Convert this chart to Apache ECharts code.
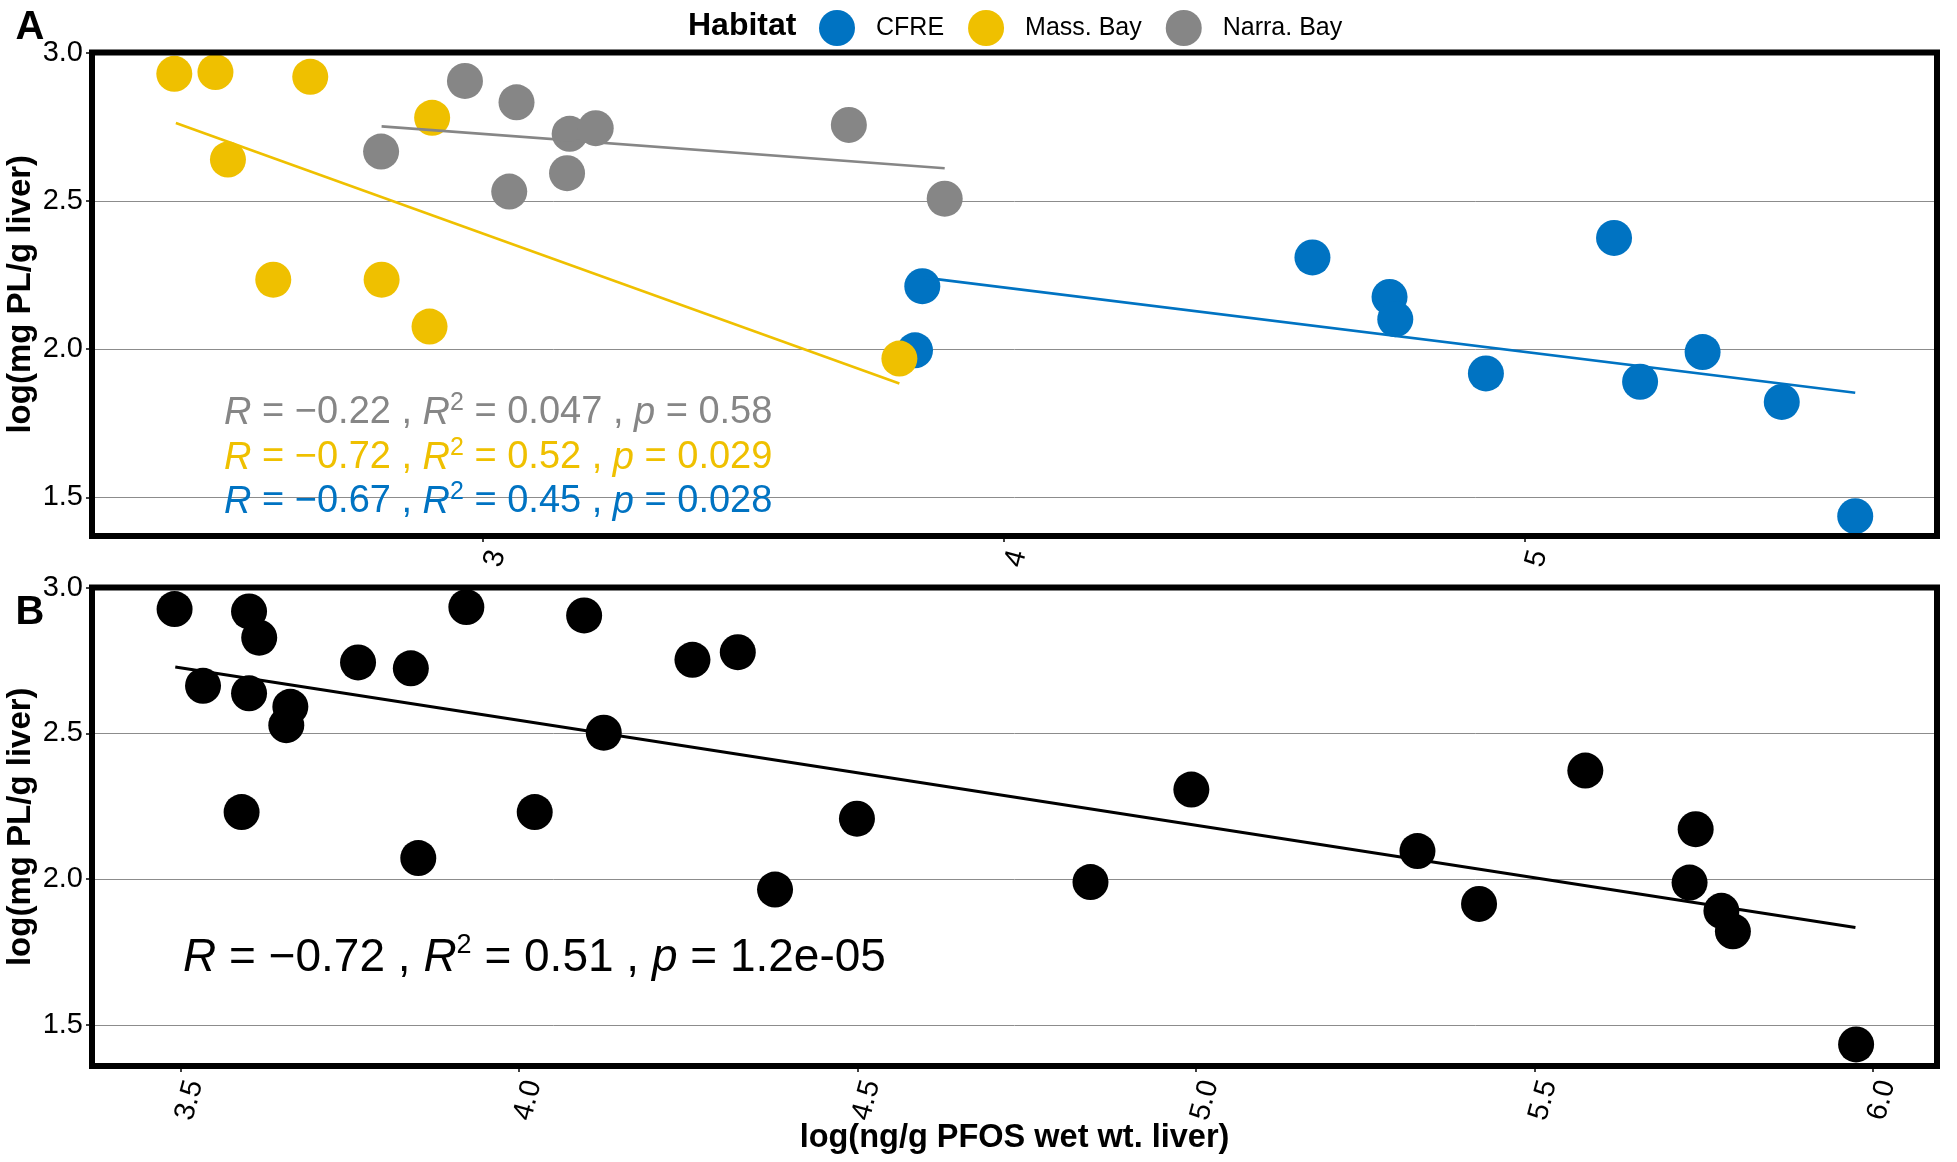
<!DOCTYPE html>
<html><head><meta charset="utf-8">
<script src="https://cdn.jsdelivr.net/npm/echarts@6/dist/echarts.min.js"></script>
<style>html,body{margin:0;padding:0;background:#fff}#c{width:1957px;height:1162px}</style>
</head><body><div id="c"></div>
<script>
// ---------- data ----------
const habitats = ['CFRE', 'Mass. Bay', 'Narra. Bay'];
const habitatColors = ['#0073C2', '#EFC000', '#868686'];

// tick values
const ticksAX = [3, 4, 5];
const ticksBX = [3.5, 4.0, 4.5, 5.0, 5.5, 6.0];
const ticksY  = [1.5, 2.0, 2.5, 3.0];

// Panel A
const cfreX  = [3.843, 3.829, 4.592, 4.740, 4.751, 5.171, 4.925, 5.221, 5.341, 5.493, 5.634];
const cfreY  = [2.212, 1.996, 2.309, 2.176, 2.101, 2.375, 1.918, 1.890, 1.990, 1.822, 1.437];
const massX  = [2.407, 2.486, 2.668, 2.902, 2.510, 2.597, 2.805, 2.897, 3.799];
const massY  = [2.928, 2.934, 2.918, 2.780, 2.639, 2.234, 2.234, 2.076, 1.968];
const narraX = [2.965, 3.064, 2.804, 3.166, 3.216, 3.050, 3.161, 3.702, 3.886];
const narraY = [2.904, 2.832, 2.666, 2.726, 2.745, 2.531, 2.593, 2.756, 2.507];

// fitted lines (end points)
const fitCfreX  = [3.843, 5.634];  const fitCfreY  = [2.242, 1.853];
const fitMassX  = [2.410, 3.799];  const fitMassY  = [2.762, 1.884];
const fitNarraX = [2.805, 3.886];  const fitNarraY = [2.751, 2.610];

// Panel B
const allX = [3.491, 3.533, 3.601, 3.616, 3.601, 3.662, 3.656, 3.590, 3.762, 3.840,
              3.922, 3.851, 4.023, 4.096, 4.125, 4.256, 4.323, 4.378, 4.499, 4.844,
              4.993, 5.327, 5.418, 5.575, 5.738, 5.729, 5.776, 5.793, 5.975];
const allY = [2.926, 2.663, 2.918, 2.828, 2.637, 2.591, 2.528, 2.230, 2.743, 2.723,
              2.933, 2.072, 2.230, 2.904, 2.502, 2.752, 2.778, 1.964, 2.207, 1.990,
              2.307, 2.096, 1.915, 2.372, 2.171, 1.988, 1.891, 1.821, 1.433];
const fitAllX = [3.492, 5.974];  const fitAllY = [2.727, 1.834];

// stats labels
const statsA = [
  {r: '−0.22', r2: '0.047', p: '0.58'},   // Narra. Bay
  {r: '−0.72', r2: '0.52',  p: '0.029'},  // Mass. Bay
  {r: '−0.67', r2: '0.45',  p: '0.028'}   // CFRE
];
const statsAColors = ['#868686', '#EFC000', '#0073C2'];
const statsB = {r: '−0.72', r2: '0.51', p: '1.2e-05'};

const yTitle = 'log(mg PL/g liver)';
const xTitle = 'log(ng/g PFOS wet wt. liver)';

// ---------- helpers ----------
const zip = (xs, ys) => xs.map((x, i) => [x, ys[i]]);
const FONT = 'Liberation Sans, Arial, sans-serif';
const halfFmt = v => Math.abs(v * 2 - Math.round(v * 2)) < 1e-6 ? v.toFixed(1) : '';
const intFmt  = v => Math.abs(v - Math.round(v)) < 1e-6 ? String(Math.round(v)) : '';

const GA = {left: 92, right: 20, top: 52.5, height: 483.5, outerBoundsMode: 'none', containLabel: false};
const GB = {left: 92, right: 20, top: 587.5, height: 478.5, outerBoundsMode: 'none', containLabel: false};
const W = 1957;

function statText(s, color, size, supSize, mainLH, supLH) {
  return {
    type: 'text',
    style: {
      text: `{i|R}{n| = ${s.r} , }{i|R}{s|2}{n| = ${s.r2} , }{i|p}{n| = ${s.p}}`,
      verticalAlign: 'middle',
      rich: {
        i: {fontFamily: FONT, fontSize: size, fontStyle: 'italic', fill: color, lineHeight: mainLH},
        n: {fontFamily: FONT, fontSize: size, fill: color, lineHeight: mainLH},
        s: {fontFamily: FONT, fontSize: supSize, fill: color, lineHeight: supLH, verticalAlign: 'top'}
      }
    },
    z: 50
  };
}

function yTitleText(cy) {
  return {type: 'text', x: 21, y: cy, rotation: Math.PI / 2,
    style: {text: yTitle, align: 'center', verticalAlign: 'middle',
      fontFamily: FONT, fontWeight: 'bold', fontSize: 33, fill: '#000'}, z: 100};
}

const tickStyle = {show: true, length: 6, lineStyle: {color: '#000', width: 1.5}};

const yAxisCommon = {
  type: 'value', splitNumber: 3,
  axisLine: {show: false},
  axisTick: Object.assign({customValues: ticksY}, tickStyle),
  axisLabel: {formatter: halfFmt, customValues: ticksY, color: '#000', fontSize: 29, fontFamily: FONT, margin: 9,
              showMinLabel: true, showMaxLabel: true},
  splitLine: {show: true, lineStyle: {color: '#8c8c8c', width: 1}}
};

const xLabel = {rotate: 75, color: '#000', fontSize: 29, fontFamily: FONT, margin: 11,
                verticalAlign: 'top', showMinLabel: true, showMaxLabel: true};

const chart = echarts.init(document.getElementById('c'), null, {renderer: 'canvas'});

const option = {
  backgroundColor: '#fff',
  animation: false,
  grid: [GA, GB],
  legend: {
    data: habitats, left: 814, top: 5, orient: 'horizontal',
    icon: 'circle', itemWidth: 36, itemHeight: 36, itemGap: 24,
    selectedMode: false,
    textStyle: {fontFamily: FONT, fontSize: 25, color: '#000', padding: [0, 0, 0, 16]}
  },
  xAxis: [
    {gridIndex: 0, type: 'value', min: 2.249, max: 5.791, splitNumber: 3,
     axisLine: {show: false}, splitLine: {show: false},
     axisTick: Object.assign({customValues: ticksAX}, tickStyle),
     axisLabel: Object.assign({formatter: intFmt, customValues: ticksAX}, xLabel)},
    {gridIndex: 1, type: 'value', min: 3.369, max: 6.0945, splitNumber: 5,
     axisLine: {show: false}, splitLine: {show: false},
     axisTick: Object.assign({customValues: ticksBX}, tickStyle),
     axisLabel: Object.assign({formatter: halfFmt, customValues: ticksBX}, xLabel),
     name: xTitle, nameLocation: 'middle', nameGap: 56, nameMoveOverlap: false,
     nameTextStyle: {fontFamily: FONT, fontWeight: 'bold', fontSize: 32.5, color: '#000', verticalAlign: 'top'}}
  ],
  yAxis: [
    Object.assign({gridIndex: 0, min: 1.370, max: 3.0}, yAxisCommon),
    Object.assign({gridIndex: 1, min: 1.359, max: 3.0}, yAxisCommon)
  ],
  series: [
    {name: habitats[0], type: 'scatter', xAxisIndex: 0, yAxisIndex: 0, symbolSize: 36,
     itemStyle: {color: habitatColors[0], opacity: 1}, data: zip(cfreX, cfreY), z: 3},
    {name: habitats[1], type: 'scatter', xAxisIndex: 0, yAxisIndex: 0, symbolSize: 36,
     itemStyle: {color: habitatColors[1], opacity: 1}, data: zip(massX, massY), z: 4},
    {name: habitats[2], type: 'scatter', xAxisIndex: 0, yAxisIndex: 0, symbolSize: 36,
     itemStyle: {color: habitatColors[2], opacity: 1}, data: zip(narraX, narraY), z: 5},
    {type: 'line', xAxisIndex: 0, yAxisIndex: 0, showSymbol: false, symbol: 'none',
     lineStyle: {color: habitatColors[0], width: 2.6}, data: zip(fitCfreX, fitCfreY), z: 6},
    {type: 'line', xAxisIndex: 0, yAxisIndex: 0, showSymbol: false, symbol: 'none',
     lineStyle: {color: habitatColors[1], width: 2.6}, data: zip(fitMassX, fitMassY), z: 6},
    {type: 'line', xAxisIndex: 0, yAxisIndex: 0, showSymbol: false, symbol: 'none',
     lineStyle: {color: habitatColors[2], width: 2.6}, data: zip(fitNarraX, fitNarraY), z: 6},
    {type: 'scatter', xAxisIndex: 1, yAxisIndex: 1, symbolSize: 36,
     itemStyle: {color: '#000', opacity: 1}, data: zip(allX, allY), z: 3},
    {type: 'line', xAxisIndex: 1, yAxisIndex: 1, showSymbol: false, symbol: 'none',
     lineStyle: {color: '#000', width: 3}, data: zip(fitAllX, fitAllY), z: 6}
  ],
  graphic: [
    // panel borders
    {type: 'rect', shape: {x: GA.left, y: GA.top, width: W - GA.left - GA.right, height: GA.height},
     style: {fill: null, stroke: '#000', lineWidth: 6}, z: 100},
    {type: 'rect', shape: {x: GB.left, y: GB.top, width: W - GB.left - GB.right, height: GB.height},
     style: {fill: null, stroke: '#000', lineWidth: 6}, z: 100},
    // y axis titles
    yTitleText(GA.top + GA.height / 2),
    yTitleText(GB.top + GB.height / 2),
    // panel tags
    {type: 'text', style: {text: 'A', x: 30, y: 28, align: 'center', verticalAlign: 'middle',
      fontFamily: FONT, fontWeight: 'bold', fontSize: 40, fill: '#000'}, z: 100},
    {type: 'text', style: {text: 'B', x: 30, y: 613, align: 'center', verticalAlign: 'middle',
      fontFamily: FONT, fontWeight: 'bold', fontSize: 40, fill: '#000'}, z: 100},
    // legend title
    {type: 'text', style: {text: 'Habitat', x: 688, y: 26, align: 'left', verticalAlign: 'middle',
      fontFamily: FONT, fontWeight: 'bold', fontSize: 32, fill: '#000'}, z: 100},
    // stats
    Object.assign(statText(statsA[0], statsAColors[0], 38, 25, 44, 12), {x: 224, y: 413}),
    Object.assign(statText(statsA[1], statsAColors[1], 38, 25, 44, 12), {x: 224, y: 458}),
    Object.assign(statText(statsA[2], statsAColors[2], 38, 25, 44, 12), {x: 224, y: 502}),
    Object.assign(statText(statsB, '#000', 46, 27, 52, 17), {x: 183, y: 958})
  ]
};
chart.setOption(option);
</script>
</body></html>
